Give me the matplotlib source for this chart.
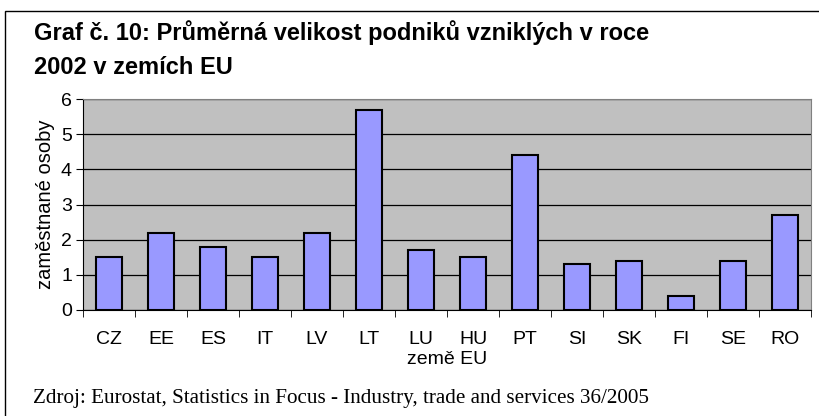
import numpy as np
import matplotlib.pyplot as plt
from matplotlib.patches import Rectangle

# dane
zeme = ['CZ', 'EE', 'ES', 'IT', 'LV', 'LT', 'LU', 'HU', 'PT', 'SI', 'SK', 'FI', 'SE', 'RO']
velikost = [1.5, 2.2, 1.8, 1.5, 2.2, 5.7, 1.7, 1.5, 4.4, 1.3, 1.4, 0.4, 1.4, 2.7]

plt.rcParams['font.family'] = ['Liberation Sans', 'DejaVu Sans']

fig = plt.figure(figsize=(8.2, 4.16), dpi=100)
W, H = 820, 416

# ramecek kolem grafu
fig.patches.append(Rectangle((5 / W, -0.1), (W - 4) / W, 1.1 - 11 / H, transform=fig.transFigure,
                             fill=False, edgecolor='black', linewidth=1))

ax = fig.add_axes([83 / W, 1 - 310 / H, (811 - 83) / W, (310 - 99) / H])
x = np.arange(len(zeme))
ax.set_facecolor('#C0C0C0')
ax.bar(x, velikost, width=0.5, color='#9999FF', edgecolor='black', linewidth=1.5, zorder=3)
ax.set_xlim(-0.5, len(zeme) - 0.5)
ax.set_ylim(0, 6)
ax.set_yticks(range(0, 7))
ax.yaxis.grid(True, color='black', linewidth=0.9, zorder=1)
ax.set_axisbelow(True)

# popisky kategorii bez ticku, ticky na hranicich
ax.set_xticks(x)
ax.set_xticklabels(zeme, fontsize=14)
ax.tick_params(axis='x', length=0, pad=15)
ax.set_xticks(np.arange(-0.5, len(zeme)), minor=True)
ax.tick_params(axis='x', which='minor', length=5, color='black')
ax.tick_params(axis='y', labelsize=14, length=5, pad=3)

for s in ['top', 'right']:
    ax.spines[s].set_color('#808080')
for s in ['left', 'bottom']:
    ax.spines[s].set_color('black')

ax.set_xlabel('země EU', fontsize=14, labelpad=2)
ax.set_ylabel('zaměstnané osoby', fontsize=14.5, labelpad=4)

fig.text(34 / W, 1 - 40 / H, 'Graf č. 10: Průměrná velikost podniků vzniklých v roce',
         fontsize=17, fontweight='bold', va='baseline')
fig.text(34 / W, 1 - 74 / H, '2002 v zemích EU',
         fontsize=17, fontweight='bold', va='baseline')
fig.text(33 / W, 1 - 403 / H, 'Zdroj: Eurostat, Statistics in Focus - Industry, trade and services 36/2005',
         fontsize=15.2, family='Liberation Serif', va='baseline')

fig.savefig('out.png', dpi=100)
